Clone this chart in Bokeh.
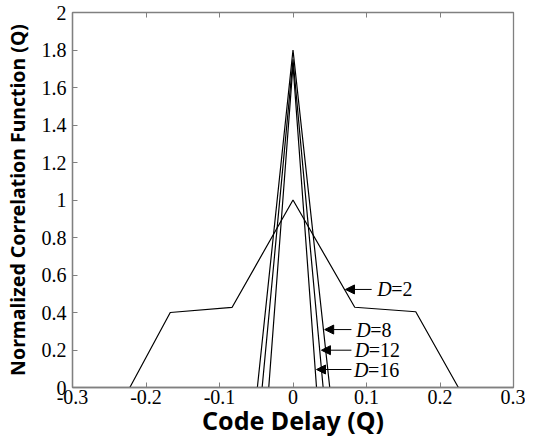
from bokeh.plotting import figure
from bokeh.models import (Range1d, LinearAxis, FixedTicker, CustomJSTickFormatter,
                          Arrow, NormalHead, ColumnDataSource)
from bokeh.core.properties import value
from bokeh.embed import file_html
from bokeh.resources import INLINE

# ---- data ----
d2_x = [-0.222, -0.167, -0.083, 0.0, 0.084, 0.167, 0.225]
d2_y = [0.0, 0.400, 0.427, 1.0, 0.428, 0.404, 0.0]
d8_x = [-0.0485, 0.0, 0.050]
d8_y = [0.0, 1.80, 0.0]
d12_x = [-0.042, 0.0, 0.041]
d12_y = [0.0, 1.75, 0.0]
d16_x = [-0.033, 0.0, 0.032]
d16_y = [0.0, 1.72, 0.0]

label_values = ["2", "8", "12", "16"]
arrow_tip_x = [0.0714, 0.0431, 0.0387, 0.0320]
arrow_tip_y = [0.523, 0.309, 0.199, 0.096]
arrow_tail_x = [0.107, 0.0795, 0.0795, 0.0795]
label_x = [0.1145, 0.086, 0.084, 0.083]

x_ticks = [-0.3, -0.2, -0.1, 0.0, 0.1, 0.2, 0.3]
y_ticks = [0.0, 0.2, 0.4, 0.6, 0.8, 1.0, 1.2, 1.4, 1.6, 1.8, 2.0]

GRAY = "#808080"
SERIF = "Liberation Serif"
SANS = "Noto Sans"

p = figure(frame_width=441, frame_height=375, output_backend="svg", toolbar_location=None,
           x_range=Range1d(-0.3, 0.3), y_range=Range1d(0, 2),
           min_border_left=67, min_border_right=12, min_border_top=12, min_border_bottom=40,
           x_axis_label="Code Delay (Q)", y_axis_label="Normalized Correlation Function (Q)")
p.xgrid.visible = False
p.ygrid.visible = False
p.outline_line_color = GRAY
p.outline_line_width = 1.3
p.background_fill_color = "white"
p.border_fill_color = "white"

fmt_js = "var s = tick.toFixed(1); if (s.endsWith('.0')) { s = s.slice(0, -2); } if (s === '-0') { s = '0'; } return s;"

for ax, ticks in ((p.xaxis[0], x_ticks), (p.yaxis[0], y_ticks)):
    ax.ticker = FixedTicker(ticks=ticks, minor_ticks=[])
    ax.formatter = CustomJSTickFormatter(code=fmt_js)
    ax.major_tick_in = 5
    ax.major_tick_out = 0
    ax.minor_tick_line_color = None
    ax.axis_line_color = GRAY
    ax.axis_line_width = 1.3
    ax.major_tick_line_color = GRAY
    ax.major_label_text_font = SERIF
    ax.major_label_text_font_size = "20px"
    ax.major_label_text_color = "black"
    ax.axis_label_text_font = SANS
    ax.axis_label_text_font_style = "bold"
    ax.axis_label_text_color = "black"

p.xaxis[0].major_label_standoff = 2
p.xaxis[0].axis_label_standoff = -4
p.xaxis[0].axis_label_text_font_size = "25px"
p.yaxis[0].major_label_standoff = 6
p.yaxis[0].axis_label_standoff = 8
p.yaxis[0].axis_label_text_font_size = "19.5px"

top = LinearAxis(ticker=FixedTicker(ticks=x_ticks, minor_ticks=[]),
                 formatter=CustomJSTickFormatter(code="return '';"),
                 major_tick_in=5, major_tick_out=0, minor_tick_line_color=None,
                 axis_line_color=GRAY, major_tick_line_color=GRAY,
                 major_label_text_font_size="1px", major_label_standoff=0)
p.add_layout(top, "above")

for xs, ys in ((d2_x, d2_y), (d8_x, d8_y), (d12_x, d12_y), (d16_x, d16_y)):
    p.line(xs, ys, line_color="black", line_width=1.2)

for i in range(len(label_values)):
    p.add_layout(Arrow(end=NormalHead(size=9, fill_color="black", line_color="black"),
                       x_start=arrow_tail_x[i], y_start=arrow_tip_y[i],
                       x_end=arrow_tip_x[i], y_end=arrow_tip_y[i],
                       line_color="black", line_width=1))

src = ColumnDataSource(dict(x=label_x, y=arrow_tip_y, d=["D"] * len(label_x),
                            rest=["=" + v for v in label_values]))
p.text(x="x", y="y", text="d", source=src, text_font=value(SERIF), text_font_style="italic",
       text_font_size="20px", text_baseline="middle", text_align="left", text_color="black")
p.text(x="x", y="y", text="rest", source=src, text_font=value(SERIF), x_offset=14,
       text_font_size="20px", text_baseline="middle", text_align="left", text_color="black")

open("out.html", "w").write(file_html(p, INLINE))
